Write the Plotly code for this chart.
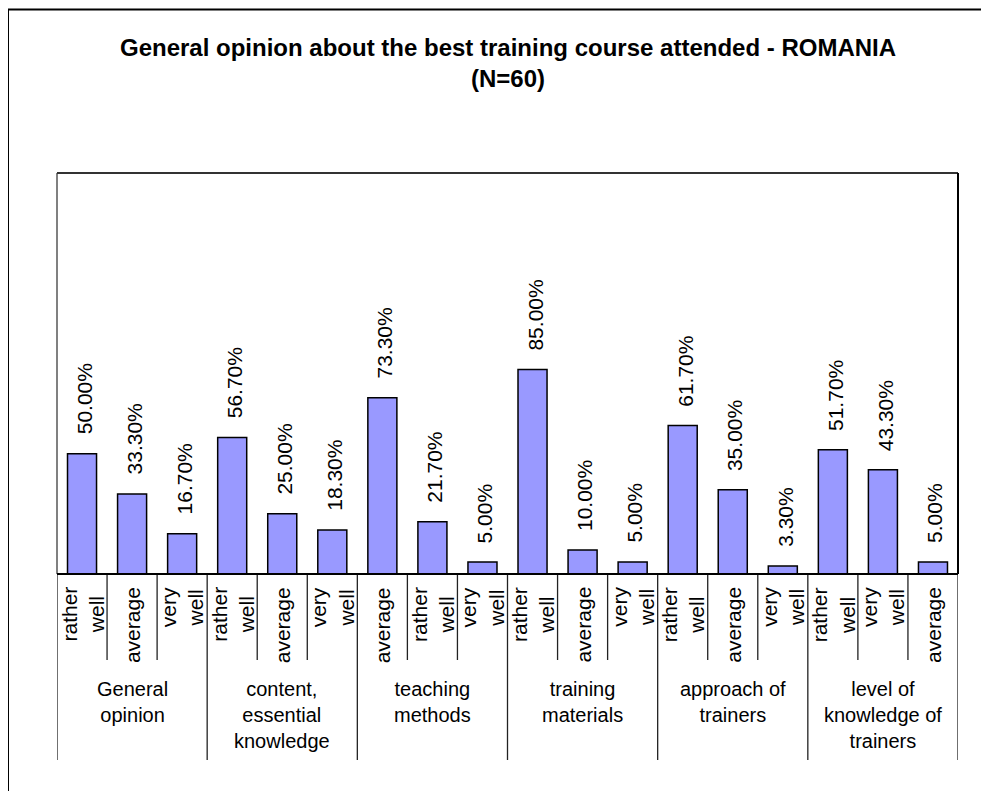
import plotly.graph_objects as go

groups = ["General<br>opinion", "content,<br>essential<br>knowledge", "teaching<br>methods",
          "training<br>materials", "approach of<br>trainers", "level of<br>knowledge of<br>trainers"]
sub_labels = ["rather<br>well", "average", "very<br>well",
              "rather<br>well", "average", "very<br>well",
              "average", "rather<br>well", "very<br>well",
              "rather<br>well", "average", "very<br>well",
              "rather<br>well", "average", "very<br>well",
              "rather<br>well", "very<br>well", "average"]
values = [50.0, 33.3, 16.7,
          56.7, 25.0, 18.3,
          73.3, 21.7, 5.0,
          85.0, 10.0, 5.0,
          61.7, 35.0, 3.3,
          51.7, 43.3, 5.0]
title_text = "General opinion about the best training course attended - ROMANIA<br>(N=60)"

FONT = "Liberation Sans, Arial, sans-serif"
W, H = 989, 791
OFF = 8  # page body margin offset
PW, PH = 901, 401
L, T = 57 - OFF, 173 - OFF
R = W - L - PW
B = H - T - PH

n = len(values)
xs = list(range(n))
per_group = n // len(groups)

fig = go.Figure()
fig.add_trace(go.Bar(
    x=xs, y=values,
    marker=dict(color="#9999FF", line=dict(color="#000000", width=1.5)),
    hoverinfo="skip",
))

ann = []
# data labels
for x, v in zip(xs, values):
    ann.append(dict(x=x, y=v, xref="x", yref="y", text=f"{v:.2f}%", textangle=-90,
                    showarrow=False, yanchor="bottom", xanchor="center", yshift=17, xshift=2,
                    font=dict(family=FONT, size=21, color="#000")))
# sub labels
for x, s in zip(xs, sub_labels):
    ann.append(dict(x=x, y=-11 / PH, xref="x", yref="paper", text=s, textangle=-90,
                    showarrow=False, yanchor="top", xanchor="center", align="center",
                    font=dict(family=FONT, size=21, color="#000")))
# group labels
for g, name in enumerate(groups):
    cx = g * per_group + (per_group - 1) / 2
    ann.append(dict(x=cx, y=-102 / PH, xref="x", yref="paper", text=name,
                    showarrow=False, yanchor="top", xanchor="center", align="center",
                    font=dict(family=FONT, size=20, color="#000")))
# title
ann.append(dict(x=0.5, y=1 + (173 - 32) / PH, xref="paper", yref="paper", text=f"<b>{title_text}</b>",
                showarrow=False, yanchor="top", xanchor="center", align="center",
                font=dict(family=FONT, size=24, color="#000")))

shapes = []
# separators
for i in range(n + 1):
    is_group = (i % per_group == 0)
    depth = 186 if is_group else 86
    shapes.append(dict(type="line", xref="x", yref="paper", x0=i - 0.5, x1=i - 0.5,
                       y0=0, y1=-depth / PH, line=dict(color="#222222", width=1.3)))
# plot frame
shapes.append(dict(type="line", xref="paper", yref="paper", x0=0, x1=0, y0=0, y1=1,
                   line=dict(color="#808080", width=2)))
shapes.append(dict(type="line", xref="paper", yref="paper", x0=0, x1=1, y0=1, y1=1,
                   line=dict(color="#333333", width=2)))
shapes.append(dict(type="line", xref="paper", yref="paper", x0=1, x1=1, y0=0, y1=1,
                   line=dict(color="#000000", width=2)))
shapes.append(dict(type="line", xref="paper", yref="paper", x0=0, x1=1, y0=0, y1=0,
                   line=dict(color="#000000", width=2)))
# outer chart border (extends past right/bottom edges)
shapes.append(dict(type="rect", xref="paper", yref="paper",
                   x0=(8 - 57) / PW, x1=(W + 40 - 57) / PW,
                   y0=-(B + 40) / PH, y1=1 + (173 - 9.5) / PH,
                   line=dict(color="#000000", width=2), fillcolor="rgba(0,0,0,0)", layer="below"))

fig.update_layout(
    width=W, height=H,
    margin=dict(l=L, r=R, t=T, b=B),
    paper_bgcolor="white", plot_bgcolor="white",
    showlegend=False,
    bargap=0.42,
    xaxis=dict(range=[-0.5, n - 0.5], showticklabels=False, showgrid=False, zeroline=False,
               ticks="", fixedrange=True),
    yaxis=dict(range=[0, 166.7], showticklabels=False, showgrid=False, zeroline=False,
               ticks="", fixedrange=True),
    annotations=ann,
    shapes=shapes,
)

fig.write_html("out.html")
